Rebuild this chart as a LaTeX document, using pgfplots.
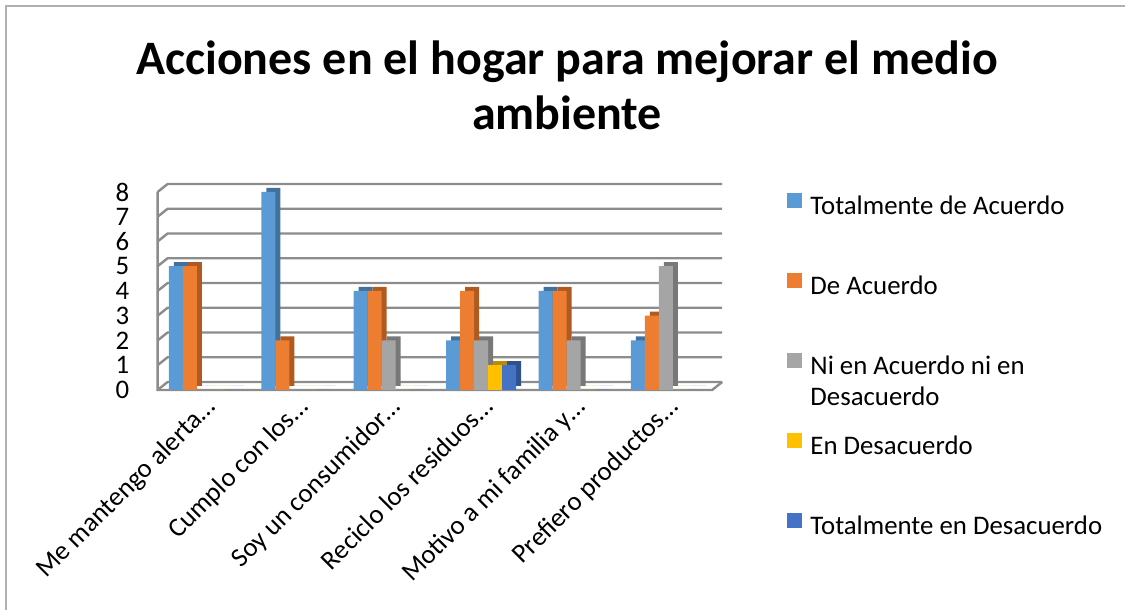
\documentclass[border=0pt]{standalone}
\usepackage{pgfplots}
\usepackage{pgfplotstable}
\pgfplotsset{compat=1.18}
\usepackage{fontspec}
\setmainfont{Carlito}
\definecolor{ta}{HTML}{5B9BD5}
\definecolor{tad}{HTML}{41719C}
\definecolor{da}{HTML}{ED7D31}
\definecolor{dad}{HTML}{AE5A21}
\definecolor{ni}{HTML}{A5A5A5}
\definecolor{nid}{HTML}{787878}
\definecolor{ed}{HTML}{FFC000}
\definecolor{edd}{HTML}{BC8C00}
\definecolor{ted}{HTML}{4472C4}
\definecolor{tedd}{HTML}{2F528F}
\definecolor{gridc}{HTML}{8C8C8C}
\definecolor{framec}{HTML}{B0B0B0}

\pgfplotstableread{
x ta da ni ed ted
0 5 5 0 0 0
1 8 2 0 0 0
2 4 4 2 0 0
3 2 4 2 1 1
4 4 4 2 0 0
5 2 3 5 0 0
}\data

\begin{document}
\begin{tikzpicture}
\draw[framec, line width=1pt] (3pt,0) -- (3pt,302pt) -- (562.5pt,302pt);
\node[anchor=base, font=\fontsize{24}{28}\selectfont\bfseries] at (283.5pt,267.5pt) {Acciones en el hogar para mejorar el medio};
\node[anchor=base, font=\fontsize{24}{28}\selectfont\bfseries] at (283.5pt,240pt) {ambiente};
\begin{axis}[
  at={(78.8pt,110pt)}, anchor=south west,
  scale only axis, width=277.3pt, height=99pt,
  xmin=-0.5, xmax=5.5, ymin=0, ymax=8,
  clip=false, set layers,
  ybar=0pt, bar width=7pt,
  axis line style={draw=none},
  major tick length=0pt,
  ytick={0,...,8},
  xtick={0,...,5},
  xticklabels={Me mantengo alerta\ldots, Cumplo con los\ldots, Soy un consumidor\ldots, Reciclo los residuos\ldots, Motivo a mi familia y\ldots, Prefiero productos\ldots},
  tick label style={font=\fontsize{13.4}{16}\selectfont},
  /pgf/number format/assume math mode=true,
  yticklabel style={anchor=east, inner sep=0pt, xshift=-14pt},
  xticklabel style={xshift=0pt, yshift=-2.5pt, rotate=45, anchor=north east, inner sep=0pt},
  legend style={at={(rel axis cs:1.135,0.996)}, anchor=north west, draw=none, fill=none,
    inner sep=0pt, row sep=26.5pt, column sep=4pt,
    nodes={inner sep=0pt, text height=9pt, text depth=3pt, font=\fontsize{13.4}{15.5}\selectfont}},
  legend cell align=left,
  legend image code/.code={\fill[#1] (0pt,0pt) rectangle (7.5pt,7.5pt);},
]
\begin{pgfonlayer}{axis background}
\pgfplotsinvokeforeach{0,...,8}{
  \draw[gridc, line width=1.2pt] (axis cs:-0.5,#1) -- ([shift={(5pt,4pt)}]axis cs:-0.5,#1) -- ([shift={(5pt,4pt)}]axis cs:5.5,#1);
}
\draw[gridc, line width=1.2pt] (axis cs:-0.5,8) -- (axis cs:-0.5,0) -- (axis cs:5.5,0) -- ([shift={(5pt,4pt)}]axis cs:5.5,0);
\end{pgfonlayer}
% 3D sides (shifted darker copies)
\addplot[forget plot, fill=tad, draw=none, bar shift=-14pt, xshift=2.5pt, yshift=2pt] table[x=x,y=ta]{\data};
\addplot[forget plot, fill=dad, draw=none, bar shift=-7pt, xshift=2.5pt, yshift=2pt] table[x=x,y=da]{\data};
\addplot[forget plot, fill=nid, draw=none, bar shift=0pt, xshift=2.5pt, yshift=2pt] table[x=x,y=ni]{\data};
\addplot[forget plot, fill=edd, draw=none, bar shift=7pt, xshift=2.5pt, yshift=2pt] table[x=x,y=ed]{\data};
\addplot[forget plot, fill=tedd, draw=none, bar shift=14pt, xshift=2.5pt, yshift=2pt] table[x=x,y=ted]{\data};
% front faces
\addplot[fill=ta, draw=none, bar shift=-14pt] table[x=x,y=ta]{\data};
\addplot[fill=da, draw=none, bar shift=-7pt] table[x=x,y=da]{\data};
\addplot[fill=ni, draw=none, bar shift=0pt] table[x=x,y=ni]{\data};
\addplot[fill=ed, draw=none, bar shift=7pt] table[x=x,y=ed]{\data};
\addplot[fill=ted, draw=none, bar shift=14pt] table[x=x,y=ted]{\data};
\legend{Totalmente de Acuerdo, De Acuerdo, {\smash{\begin{tabular}[t]{@{}l@{}}Ni en Acuerdo ni en\\Desacuerdo\end{tabular}}}, En Desacuerdo, Totalmente en Desacuerdo}
\end{axis}
\pgfresetboundingbox
\useasboundingbox (0,0) rectangle (562.5pt,305pt);
\end{tikzpicture}
\end{document}
